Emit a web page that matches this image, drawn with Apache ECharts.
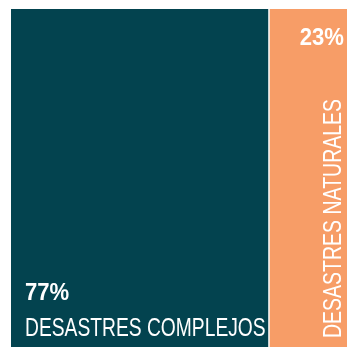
<!DOCTYPE html>
<html>
<head>
<meta charset="utf-8">
<script src="https://cdn.jsdelivr.net/npm/echarts@6/dist/echarts.min.js"></script>
<style>
  html, body { margin: 0; padding: 0; background: #ffffff; }
  #chart { width: 347px; height: 347px; }
</style>
</head>
<body>
<div id="chart"></div>
<script>
// Share of humanitarian crises by type
const categories = ['DESASTRES COMPLEJOS', 'DESASTRES NATURALES'];
const shares = [77, 23];
const shareLabels = ['77%', '23%'];
const colors = ['#03434F', '#F79D67'];

const SANS = '"Liberation Sans", Arial, sans-serif';

// cumulative segments along a 0..100 axis
let acc = 0;
const segments = shares.map(function (v, i) {
  const start = acc;
  acc += v;
  return [start, acc, i];
});

// condensed-looking text: a regular face squeezed along its reading direction
function label(text, x, y, opts) {
  return {
    type: 'text',
    x: x, y: y,
    rotation: opts.rotation || 0,
    scaleX: opts.squeeze,
    style: {
      x: 0, y: 0, text: text,
      fill: '#ffffff',
      font: opts.font,
      align: opts.align,
      verticalAlign: 'middle'
    }
  };
}

function renderItem(params, api) {
  const s = api.value(0), e = api.value(1), i = api.value(2);
  const p0 = api.coord([s, 1]);
  const p1 = api.coord([e, 0]);
  const x = p0[0], y = p0[1];
  let w = p1[0] - p0[0];
  const h = p1[1] - p0[1];
  if (i === 0) w -= 1.5; // thin separator between the blocks
  const children = [{
    type: 'rect',
    shape: { x: x, y: y, width: w, height: h },
    style: { fill: colors[i] }
  }];
  if (i === 0) {
    children.push(label(shareLabels[i], x + 14, y + h - 53.5,
      { font: 'bold 24px ' + SANS, align: 'left', squeeze: 0.92 }));
    children.push(label(categories[i], x + 14, y + h - 18,
      { font: '25px ' + SANS, align: 'left', squeeze: 0.77 }));
  } else {
    children.push(label(shareLabels[i], x + w - 3, y + 29.5,
      { font: 'bold 24px ' + SANS, align: 'right', squeeze: 0.92 }));
    children.push(label(categories[i], x + w - 13, y + h - 9,
      { font: '25px ' + SANS, align: 'left', squeeze: 0.78, rotation: Math.PI / 2 }));
  }
  return { type: 'group', children: children };
}

const chart = echarts.init(document.getElementById('chart'), null, { renderer: 'canvas' });
chart.setOption({
  animation: false,
  grid: { left: 11, right: 0, top: 9, bottom: 0 },
  xAxis: { type: 'value', min: 0, max: 100, show: false },
  yAxis: { type: 'value', min: 0, max: 1, show: false },
  series: [{
    type: 'custom',
    renderItem: renderItem,
    data: segments,
    encode: { x: [0, 1], y: 2 }
  }]
});
</script>
</body>
</html>
